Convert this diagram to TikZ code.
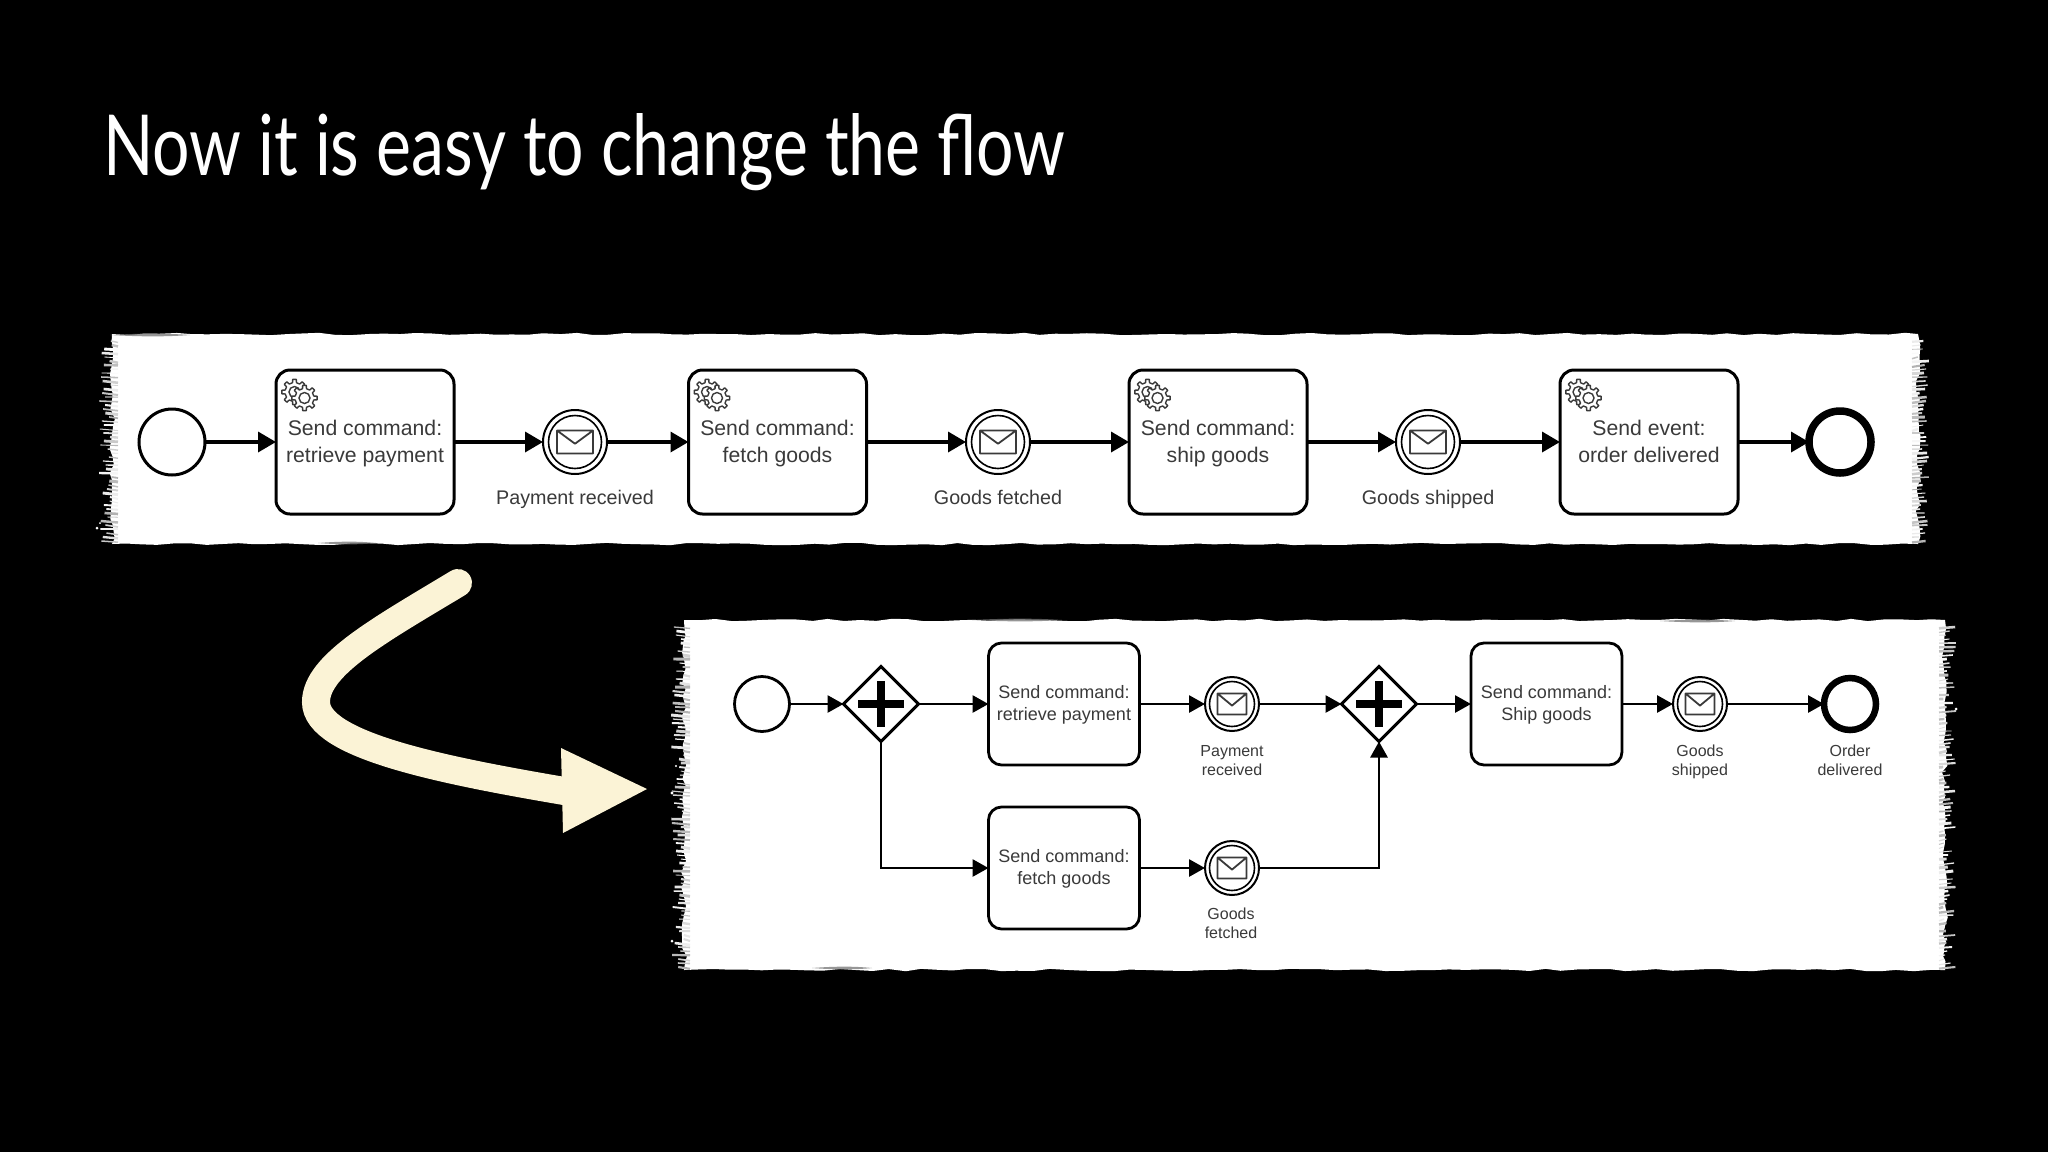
\documentclass[tikz,border=0pt]{standalone}
\usepackage{graphicx}
\usepackage{fontspec}
\setmainfont{Liberation Sans}
\newfontfamily\titlefont{Lato}
\usetikzlibrary{arrows.meta,shapes.geometric,decorations.pathmorphing}
\definecolor{ink}{HTML}{3A3A3A}
\definecolor{cream}{HTML}{FBF3D6}
\newcommand{\tornstrip}[4]{%
  % white sheet
  \fill[white] (#1,#2) decorate[edgeh]{-- (#3,#2)} decorate[edgew]{-- (#3,#4)} decorate[edgeh]{-- (#1,#4)} decorate[edgew]{-- cycle};
  % frayed fibres on the two short sides
  \pgfmathsetmacro{\ys}{#2+7}
  \pgfmathsetmacro{\yn}{#2+11}
  \foreach \yy in {\ys,\yn,...,#4}{
    \pgfmathsetmacro{\da}{rnd*13}
    \pgfmathsetmacro{\db}{rnd*13}
    \pgfmathsetmacro{\wa}{0.8+rnd*2.2}
    \pgfmathsetmacro{\wb}{0.8+rnd*2.2}
    \pgfmathtruncatemacro{\ga}{70+rnd*30}
    \pgfmathtruncatemacro{\gb}{70+rnd*30}
    \draw[white!\ga!black,line width=\wa pt] (#1-\da,\yy) -- (#1+6,\yy+rnd*2);
    \draw[white!\gb!black,line width=\wb pt] (#3+\db-2,\yy) -- (#3-6,\yy+rnd*2);
  }
}
\newcommand{\streak}[3]{%
  \fill[black!55,opacity=.75] (#1,#3) .. controls (#1*0.6+#2*0.4,#3-1.8) and (#1*0.3+#2*0.7,#3-1.8) .. (#2,#3) .. controls (#1*0.3+#2*0.7,#3+1.8) and (#1*0.6+#2*0.4,#3+1.8) .. (#1,#3) -- cycle;
}
\tikzset{
  edgeh/.style={decoration={random steps,segment length=16pt,amplitude=1.2pt}},
  edgew/.style={decoration={random steps,segment length=8pt,amplitude=3pt}},
  flow/.style={draw=black,line width=3.5pt,-{Triangle[length=18pt,width=20pt]}},
  flowb/.style={draw=black,line width=2.8pt,-{Triangle[length=16pt,width=17pt]}},
  bigtask/.style={draw=black,fill=white,line width=3pt,rectangle,rounded corners=14pt,minimum width=178pt,minimum height=144pt,inner sep=0pt,outer sep=0pt,align=center,text=ink,font=\fontsize{21.2}{26.5}\selectfont},
  smalltask/.style={draw=black,fill=white,line width=2.8pt,rectangle,rounded corners=13pt,minimum width=151pt,minimum height=122pt,inner sep=0pt,outer sep=0pt,align=center,text=ink,font=\fontsize{18}{22}\selectfont},
  startbig/.style={draw=black,fill=white,line width=3pt,circle,minimum size=66pt,inner sep=0pt,outer sep=0pt},
  endbig/.style={draw=black,fill=white,line width=7.5pt,circle,minimum size=62pt,inner sep=0pt,outer sep=0pt},
  startsmall/.style={draw=black,fill=white,line width=2.8pt,circle,minimum size=55pt,inner sep=0pt,outer sep=0pt},
  endsmall/.style={draw=black,fill=white,line width=6.5pt,circle,minimum size=52pt,inner sep=0pt,outer sep=0pt},
  msgbig/.style={draw=black,fill=white,line width=2pt,circle,minimum size=64pt,inner sep=0pt,outer sep=0pt},
  msgsmall/.style={draw=black,fill=white,line width=2pt,circle,minimum size=54pt,inner sep=0pt,outer sep=0pt},
  gate/.style={draw=black,fill=white,line width=3pt,diamond,aspect=1,minimum width=75pt,minimum height=75pt,inner sep=0pt,outer sep=0pt},
  biglabel/.style={text=ink,align=center,font=\fontsize{19.7}{24}\selectfont,inner sep=0pt},
  smalllabel/.style={text=ink,align=center,font=\fontsize{16}{19.6}\selectfont,inner sep=0pt},
  pics/gearshape/.style={code={
    \draw[ink,fill=white,line width=1.4pt,line join=round] (-12:9.5)
      \foreach \a in {0,45,...,315}{ -- (\a-12:9.5) -- (\a-8:12.8) -- (\a+8:12.8) -- (\a+12:9.5) -- (\a+33:9.5)} -- cycle;
    \draw[ink,line width=1.4pt] (0,0) circle (5.5);
  }},
  pics/msgring/.style={code={
    \draw[black,line width=1.6pt] (0,0) circle (#1);
  }},
  pics/envelope/.style args={#1 and #2}{code={
    \draw[ink,line width=1.8pt,line join=round] (-#1,-#2) rectangle (#1,#2) (-#1,-#2) -- (0,#2*0.15) -- (#1,-#2);
  }},
}
\newcommand{\fixbt}{\rule{0pt}{21.5pt}\strut}
\newcommand{\fixst}{\rule{0pt}{17.4pt}\strut}
\newcommand{\fixbl}{\rule{0pt}{20.8pt}\strut}
\newcommand{\fixsl}{\rule{0pt}{16.7pt}\strut}
\begin{document}
\begin{tikzpicture}[x=1pt,y=-1pt]
\useasboundingbox[fill=black] (0,0) rectangle (2048,1152);
\pgfmathsetseed{4711}
% title
\node[anchor=base west,inner sep=0pt,text=white] (title) at (103,175)
  {\resizebox{962pt}{62pt}{\titlefont Now it is easy to change the flow}};
% torn strips
\tornstrip{112}{334}{1918}{544}
\tornstrip{684}{620}{1945}{970}
\streak{318}{376}{543}
\streak{110}{190}{335}
\streak{812}{872}{968}
\streak{972}{1062}{620}
\streak{1660}{1735}{621}
\foreach \p/\r in {{97,528}/1.5,{100,523}/1,{672,793}/1.6,{676,766}/1.2,{672,941}/1.5,{1956,709}/1.5}{
  \fill[white] (\p) circle (\r);
}
% curved arrow
\fill[cream] (561,748) -- (647,789) -- (563,833) -- cycle;
\draw[cream,line width=28pt,line cap=round] (458,583) .. controls (380,630) and (316,665) .. (316,702) .. controls (316,745) and (440,770) .. (570,792);
% top row
\node[startbig] (s1) at (172,442) {};
\node[bigtask] (t1) at (365,442) {\fixbt Send command:\\\strut retrieve payment};
\node[msgbig] (m1) at (575,442) {};
\node[bigtask] (t2) at (777.5,442) {\fixbt Send command:\\\strut fetch goods};
\node[msgbig] (m2) at (998,442) {};
\node[bigtask] (t3) at (1218,442) {\fixbt Send command:\\\strut ship goods};
\node[msgbig] (m3) at (1428,442) {};
\node[bigtask] (t4) at (1649,442) {\fixbt Send event:\\\strut order delivered};
\node[endbig] (e1) at (1840,442) {};
\foreach \n in {t1,t2,t3,t4}{
  \pic at ([shift={(18.5,22)}]\n.north west) {gearshape};
  \pic at ([shift={(28.5,28)}]\n.north west) {gearshape};
}
\foreach \n in {m1,m2,m3}{
  \pic at (\n.center) {msgring=26.5};
  \pic at (\n.center) {envelope=18 and 11.5};
}
\node[biglabel] (l1) at (575,498) {\fixbl Payment received};
\node[biglabel] (l2) at (998,498) {\fixbl Goods fetched};
\node[biglabel] (l3) at (1428,498) {\fixbl Goods shipped};
\draw[flow] (s1) -- (t1);
\draw[flow] (t1) -- (m1);
\draw[flow] (m1) -- (t2);
\draw[flow] (t2) -- (m2);
\draw[flow] (m2) -- (t3);
\draw[flow] (t3) -- (m3);
\draw[flow] (m3) -- (t4);
\draw[flow] (t4) -- (e1);
% bottom diagram
\node[startsmall] (s2) at (762,704) {};
\node[gate] (g1) at (881,704) {};
\node[smalltask] (a1) at (1064,704) {\fixst Send command:\\\strut retrieve payment};
\node[msgsmall] (n1) at (1232,704) {};
\node[smalltask] (a2) at (1064,868) {\fixst Send command:\\\strut fetch goods};
\node[msgsmall] (n2) at (1232,868) {};
\node[gate] (g2) at (1379,704) {};
\node[smalltask] (a3) at (1546.5,704) {\fixst Send command:\\\strut Ship goods};
\node[msgsmall] (n3) at (1700,704) {};
\node[endsmall] (e2) at (1850,704) {};
\foreach \g in {g1,g2}{
  \fill[black] ([shift={(-23,-4.2)}]\g.center) rectangle ([shift={(23,4.2)}]\g.center);
  \fill[black] ([shift={(-4,-23)}]\g.center) rectangle ([shift={(4,23)}]\g.center);
}
\foreach \n in {n1,n2,n3}{
  \pic at (\n.center) {msgring=22.5};
  \pic at (\n.center) {envelope=14.5 and 10.5};
}
\node[smalllabel] (k1) at (1232,760.5) {\fixsl Payment\\\strut received};
\node[smalllabel] (k2) at (1231,923.5) {\fixsl Goods\\\strut fetched};
\node[smalllabel] (k3) at (1700,760.5) {\fixsl Goods\\\strut shipped};
\node[smalllabel] (k4) at (1850,760.5) {\fixsl Order\\\strut delivered};
\draw[flowb] (s2) -- (g1);
\draw[flowb] (g1) -- (a1);
\draw[flowb] (a1) -- (n1);
\draw[flowb] (n1) -- (g2);
\draw[flowb] (g2) -- (a3);
\draw[flowb] (a3) -- (n3);
\draw[flowb] (n3) -- (e2);
\draw[flowb] (g1.south) |- (a2.west);
\draw[flowb] (a2) -- (n2);
\draw[flowb] (n2) -| (g2.south);
\end{tikzpicture}
\end{document}
